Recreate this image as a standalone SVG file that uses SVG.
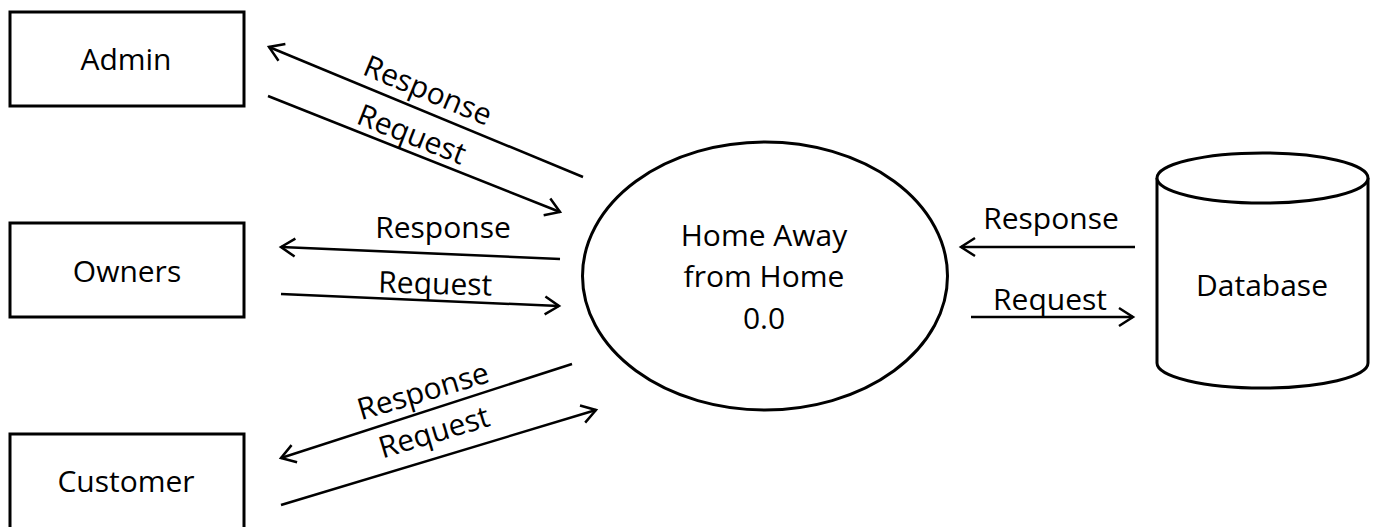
<svg xmlns="http://www.w3.org/2000/svg" width="1375" height="527" viewBox="0 0 1375 527">
<style>
.box{fill:#fff;stroke:#000;stroke-width:3}
.lbl{font-family:"Open Sans","Liberation Sans",sans-serif;font-size:30px;fill:#000;text-anchor:middle}
.conn{fill:none;stroke:#000;stroke-width:2.5;marker-end:url(#arr)}
</style>
<defs>
<marker id="arr" markerUnits="userSpaceOnUse" viewBox="-18 -12 22 24" refX="0" refY="0" markerWidth="22" markerHeight="24" orient="auto" overflow="visible">
<path d="M-14,-9 L0,0 L-14,9" fill="none" stroke="#000" stroke-width="2.5" stroke-linejoin="miter"/>
</marker>
</defs>
<rect width="1375" height="527" fill="#fff"/>
<g id="admin">
<rect class="box" x="10" y="12" width="234" height="94"/>
<text class="lbl" x="126" y="70">Admin</text>
</g>
<g id="owners">
<rect class="box" x="10" y="223" width="234" height="94"/>
<text class="lbl" x="127" y="282">Owners</text>
</g>
<g id="customer">
<rect class="box" x="10" y="434" width="234" height="100"/>
<text class="lbl" x="126" y="492">Customer</text>
</g>
<g id="process">
<ellipse class="box" cx="765" cy="276" rx="182.5" ry="134"/>
<text class="lbl" x="764" y="246">Home Away</text>
<text class="lbl" x="764" y="287">from Home</text>
<text class="lbl" x="764" y="329">0.0</text>
</g>
<g id="database">
<path class="box" d="M1157,178 L1157,363 A105.5,25 0 0 0 1368,363 L1368,178"/>
<ellipse class="box" cx="1262.5" cy="178" rx="105.5" ry="25"/>
<text class="lbl" x="1262" y="296">Database</text>
</g>
<g id="connectors">
<path class="conn" d="M583,177 L269,47"/>
<path class="conn" d="M268,96 L560,212"/>
<path class="conn" d="M560,259 L281,247"/>
<path class="conn" d="M281,294 L559,306"/>
<path class="conn" d="M572,364 L281,458"/>
<path class="conn" d="M281,505 L596,410"/>
<path class="conn" d="M1135,247 L961,247"/>
<path class="conn" d="M971,317 L1133,317"/>
<text class="lbl" transform="translate(424,100) rotate(22.5)">Response</text>
<text class="lbl" transform="translate(408,144) rotate(21.5)">Request</text>
<text class="lbl" x="443" y="238">Response</text>
<text class="lbl" transform="translate(435,294) rotate(1.5)">Request</text>
<text class="lbl" transform="translate(426,401) rotate(-16.5)">Response</text>
<text class="lbl" transform="translate(437,442) rotate(-16.8)">Request</text>
<text class="lbl" x="1051" y="229">Response</text>
<text class="lbl" x="1050" y="310">Request</text>
</g>
</svg>
